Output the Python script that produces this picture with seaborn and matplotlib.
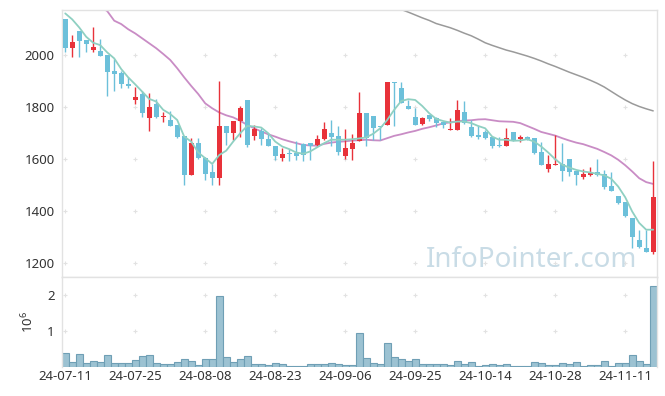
import numpy as np
import pandas as pd
import matplotlib
matplotlib.use("Agg")
import matplotlib.pyplot as plt
import seaborn as sns

# daily candles, 24-07-11 .. 24-11-15 (85 trading days)
opens = [2138, 2028, 2092, 2058, 2019, 2015, 2000, 1940, 1931, 1890,
         1827, 1850, 1756, 1813, 1763, 1750, 1729, 1689, 1537, 1661,
         1604, 1551, 1525, 1727, 1699, 1748, 1827, 1689, 1709, 1676,
         1651, 1602, 1620, 1622, 1658, 1661, 1652, 1676, 1700, 1689,
         1610, 1640, 1671, 1776, 1766, 1727, 1732, 1895, 1873, 1802,
         1763, 1734, 1771, 1757, 1743, 1710, 1712, 1780, 1722, 1692,
         1703, 1686, 1654, 1648, 1703, 1676, 1684, 1681, 1628, 1563,
         1578, 1581, 1600, 1552, 1529, 1538, 1548, 1543, 1496, 1459,
         1433, 1374, 1290, 1259, 1242]
highs = [2138, 2077, 2092, 2058, 2108, 2060, 2000, 1983, 1939, 1917,
         1876, 1863, 1853, 1832, 1781, 1786, 1729, 1689, 1679, 1680,
         1606, 1580, 1900, 1727, 1747, 1802, 1827, 1731, 1720, 1699,
         1651, 1644, 1639, 1671, 1660, 1661, 1693, 1741, 1750, 1725,
         1716, 1695, 1857, 1776, 1766, 1727, 1895, 1895, 1895, 1828,
         1798, 1763, 1771, 1761, 1743, 1757, 1827, 1823, 1750, 1727,
         1711, 1686, 1686, 1718, 1703, 1693, 1689, 1681, 1667, 1617,
         1693, 1661, 1600, 1552, 1561, 1570, 1600, 1556, 1548, 1459,
         1433, 1374, 1328, 1328, 1591]
lows = [2010, 1991, 1991, 2010, 2010, 1997, 1844, 1862, 1872, 1872,
        1811, 1761, 1706, 1756, 1741, 1725, 1680, 1500, 1537, 1600,
        1520, 1500, 1500, 1653, 1674, 1683, 1645, 1674, 1652, 1648,
        1597, 1592, 1594, 1597, 1594, 1597, 1648, 1674, 1648, 1616,
        1599, 1597, 1671, 1648, 1674, 1674, 1732, 1725, 1817, 1794,
        1732, 1730, 1748, 1722, 1718, 1710, 1712, 1736, 1684, 1676,
        1676, 1644, 1646, 1648, 1671, 1667, 1674, 1621, 1577, 1549,
        1578, 1516, 1533, 1501, 1524, 1533, 1535, 1486, 1478, 1427,
        1376, 1257, 1257, 1241, 1236]
closes = [2028, 2049, 2054, 2041, 2031, 1997, 1936, 1927, 1887, 1881,
          1839, 1776, 1800, 1763, 1766, 1725, 1686, 1537, 1663, 1602,
          1544, 1525, 1727, 1699, 1747, 1798, 1654, 1716, 1676, 1648,
          1610, 1620, 1618, 1610, 1616, 1648, 1677, 1716, 1686, 1625,
          1642, 1661, 1776, 1679, 1721, 1724, 1895, 1892, 1817, 1794,
          1732, 1757, 1753, 1740, 1730, 1715, 1789, 1738, 1689, 1684,
          1682, 1650, 1648, 1680, 1671, 1685, 1676, 1624, 1577, 1581,
          1580, 1552, 1550, 1537, 1541, 1547, 1540, 1491, 1478, 1430,
          1379, 1300, 1261, 1241, 1453]
volume_m = [0.38, 0.13, 0.35, 0.10, 0.17, 0.13, 0.32, 0.10, 0.10, 0.10,
            0.19, 0.30, 0.32, 0.10, 0.07, 0.07, 0.13, 0.21, 0.17, 0.05,
            0.21, 0.21, 1.96, 0.27, 0.13, 0.21, 0.30, 0.07, 0.07, 0.05,
            0.10, 0.07, 0.02, 0.02, 0.02, 0.07, 0.07, 0.07, 0.10, 0.07,
            0.05, 0.05, 0.94, 0.24, 0.10, 0.07, 0.66, 0.27, 0.21, 0.16,
            0.21, 0.07, 0.07, 0.07, 0.07, 0.05, 0.16, 0.07, 0.13, 0.02,
            0.05, 0.07, 0.05, 0.07, 0.02, 0.02, 0.02, 0.13, 0.10, 0.05,
            0.05, 0.10, 0.07, 0.13, 0.02, 0.05, 0.05, 0.16, 0.02, 0.10,
            0.10, 0.32, 0.16, 0.07, 2.25]
nan = np.nan
ma5 = [2160, 2137, 2106, 2070, 2047, 2038, 2010, 1987, 1946, 1914,
       1887, 1859, 1831, 1821, 1789, 1773, 1750, 1686, 1667, 1625,
       1603, 1581, 1615, 1632, 1667, 1699, 1727, 1725, 1721, 1699,
       1667, 1648, 1638, 1625, 1620, 1629, 1645, 1661, 1674, 1674,
       1674, 1676, 1679, 1683, 1697, 1718, 1750, 1789, 1823, 1830,
       1827, 1804, 1776, 1754, 1746, 1740, 1744, 1744, 1738, 1727,
       1718, 1686, 1674, 1674, 1670, 1671, 1676, 1667, 1648, 1625,
       1599, 1578, 1567, 1558, 1552, 1548, 1543, 1537, 1524, 1494,
       1453, 1398, 1354, 1328, 1328]
ma20 = [nan, nan, nan, nan, nan, 2185, 2169, 2132, 2119, 2099,
        2083, 2064, 2045, 2026, 2004, 1981, 1949, 1914, 1881, 1850,
        1814, 1795, 1779, 1768, 1760, 1747, 1731, 1718, 1706, 1695,
        1686, 1676, 1668, 1661, 1654, 1652, 1651, 1658, 1663, 1666,
        1668, 1671, 1672, 1674, 1672, 1671, 1680, 1689, 1695, 1702,
        1708, 1716, 1722, 1729, 1737, 1741, 1745, 1748, 1749, 1752,
        1753, 1749, 1745, 1744, 1743, 1738, 1727, 1716, 1704, 1697,
        1690, 1680, 1671, 1663, 1657, 1648, 1639, 1627, 1614, 1597,
        1576, 1552, 1526, 1511, 1504]
ma60 = [nan] * 47 + [
        2195, 2175, 2165,
        2154, 2143, 2133, 2121, 2113, 2105, 2095, 2084, 2074, 2061,
        2047, 2037, 2028, 2019, 2012, 2004, 1996, 1987, 1977, 1966,
        1956, 1945, 1934, 1924, 1914, 1903, 1891, 1877, 1860, 1843,
        1827, 1813, 1802, 1793, 1785]
tick_labels = ["24-07-11", "24-07-25", "24-08-08", "24-08-23", "24-09-06",
               "24-09-25", "24-10-14", "24-10-28", "24-11-11"]
price_ticks = [1200, 1400, 1600, 1800, 2000]

RED = "#e8323a"
BLUE = "#6cc0da"
GRID = "#e2e2e2"

df = pd.DataFrame({"open": opens, "high": highs, "low": lows, "close": closes,
                   "volume": np.array(volume_m) * 1e6,
                   "ma5": ma5, "ma20": ma20, "ma60": ma60})
df["idx"] = np.arange(len(df))
df["color"] = np.where(df["close"] >= df["open"], RED, BLUE)

sns.set_theme(style="white")
plt.rcParams["font.family"] = ["Noto Sans", "DejaVu Sans"]

fig = plt.figure(figsize=(6.65, 3.96), dpi=100)
ax = fig.add_axes([0.0928, 0.3005, 0.8947, 0.6742])
axv = fig.add_axes([0.0928, 0.0732, 0.8947, 0.2273], sharex=ax)

# moving averages
sns.lineplot(data=df, x="idx", y="ma60", ax=ax, color="#9a9a9a", lw=1.1, zorder=2)
sns.lineplot(data=df, x="idx", y="ma20", ax=ax, color="#c98cc5", lw=1.3, zorder=2)
sns.lineplot(data=df, x="idx", y="ma5", ax=ax, color="#8fd0c2", lw=1.3, zorder=4)

# candles
ax.vlines(df["idx"], df["low"], df["high"], colors=df["color"], lw=1.0, zorder=3)
body_lo = df[["open", "close"]].min(axis=1)
body_h = (df["close"] - df["open"]).abs().clip(lower=4)
ax.bar(df["idx"], body_h, bottom=body_lo, width=0.72, color=df["color"],
       linewidth=0, zorder=3)

# volume
sns.barplot(data=df, x="idx", y="volume", ax=axv, native_scale=True, width=1.0,
            color="#9cc2d2", edgecolor="#6f9fb5", linewidth=0.8, saturation=1)

xt = list(range(0, len(df), 10))
for a in (ax, axv):
    a.set_xlim(-0.5, len(df) - 0.5)
    for s in a.spines.values():
        s.set_color("#e2e2e2")
        s.set_linewidth(1.0)
    a.tick_params(length=0, colors="#333333", labelsize=9.5)
    a.set_xlabel("")
    a.set_ylabel("")

ax.set_ylim(1146, 2173)
ax.set_yticks(price_ticks)
ax.tick_params(axis="x", labelbottom=False)
ax.tick_params(axis="y", pad=5)

axv.set_ylim(0, 2.5e6)
axv.set_yticks([1e6, 2e6])
axv.set_yticklabels(["1", "2"])
axv.set_xticks(xt)
axv.set_xticklabels(tick_labels)
axv.tick_params(axis="x", pad=2)
axv.tick_params(axis="y", pad=5)
axv.set_ylabel(r"$\mathregular{10^6}$", fontsize=9.5, color="#333333", labelpad=8)
axv.spines["bottom"].set_visible(False)

# grid crosses
gx, gy = np.meshgrid(xt, price_ticks)
ax.scatter(gx.ravel(), gy.ravel(), marker="+", s=12, color=GRID, lw=0.8, zorder=1)
gx, gy = np.meshgrid(xt, [1e6, 2e6])
axv.scatter(gx.ravel(), gy.ravel(), marker="+", s=12, color=GRID, lw=0.8, zorder=0)

ax.text(0.967, 0.037, "InfoPointer.com", transform=ax.transAxes, ha="right",
        va="baseline", fontsize=20, color="#c9dce6", zorder=5)

fig.savefig("out.png", dpi=100)
